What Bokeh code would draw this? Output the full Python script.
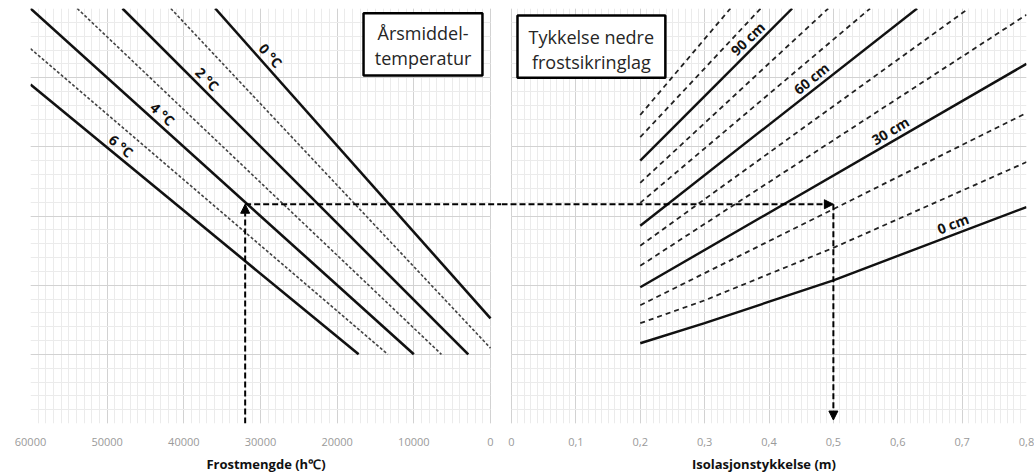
import numpy as np
from bokeh.plotting import figure
from bokeh.models import Range1d, FixedTicker, Label, Arrow, NormalHead, BoxAnnotation
from bokeh.layouts import row
from bokeh.core.properties import value
from bokeh.embed import file_html
from bokeh.resources import INLINE

# ---------------- data ----------------
# Left panel: Frostmengde (h°C) vs. level, one line per annual mean temperature
temp_labels = ["0 °C", None, "2 °C", None, "4 °C", None, "6 °C"]
left_x_start = [35900, 41700, 48000, 53900, 60000, 60000, 60000]
left_y_start = [6.0, 6.0, 6.0, 6.0, 6.0, 5.42, 4.90]
left_x_end = [0, 0, 2900, 6400, 10000, 13400, 17200]
left_y_end = [1.52, 1.09, 1.0, 1.0, 1.0, 1.0, 1.0]

# Right panel: insulation thickness (m) vs. level, one line per layer thickness (cm)
thick_cm = [0, 10, 20, 30, 40, 50, 60, 70, 80, 90, 100, 110]
right_x = [
    [0.2, 0.3, 0.5, 0.8],
    [0.2, 0.3, 0.5, 0.8],
    [0.2, 0.8],
    [0.2, 0.8],
    [0.2, 0.8],
    [0.2, 0.71],
    [0.2, 0.63],
    [0.2, 0.557],
    [0.2, 0.492],
    [0.2, 0.436],
    [0.2, 0.387],
    [0.2, 0.34],
]
right_y = [
    [1.16, 1.45, 2.07, 3.13],
    [1.45, 1.78, 2.54, 3.78],
    [1.71, 4.49],
    [1.97, 5.20],
    [2.28, 5.91],
    [2.57, 6.0],
    [2.86, 6.0],
    [3.19, 6.0],
    [3.48, 6.0],
    [3.80, 6.0],
    [4.14, 6.0],
    [4.46, 6.0],
]

# Worked example
ex_frost = 32000
ex_level = 3.17
ex_thick = 0.5

frost_ticks = [0, 10000, 20000, 30000, 40000, 50000, 60000]
frost_tick_labels = ["0", "10000", "20000", "30000", "40000", "50000", "60000"]
thick_ticks = [0, 0.1, 0.2, 0.3, 0.4, 0.5, 0.6, 0.7, 0.8]
thick_tick_labels = ["0", "0,1", "0,2", "0,3", "0,4", "0,5", "0,6", "0,7", "0,8"]
level_ticks = [0, 1, 2, 3, 4, 5, 6]

left_box_lines = ["Årsmiddel-", "temperatur"]
right_box_lines = ["Tykkelse nedre", "frostsikringlag"]

# ---------------- styles / layout ----------------
FONT = "Open Sans"
H = 476
MAJOR = "#d2d2d2"
MINOR = "#ebebeb"
left_label_at = [29600, 37800, 43600, 48950]
left_label_angle = [-48, -45, -42, -39.5]
right_label_at = {90: 0.377, 60: 0.475, 30: 0.596, 0: 0.691}
right_label_angle = {90: 44, 60: 39, 30: 31, 0: 21}
left_box = dict(left=16560, right=1050, top=5.93, bottom=5.03, cx=8800, ys=(5.65, 5.28))
right_box = dict(left=0.0093, right=0.239, top=5.90, bottom=5.0, cx=0.124, ys=(5.59, 5.23))

level_minor = [round(v * 0.2, 2) for v in range(0, 31)]


def style_common(p, ticks, labels, minor, xlabel, bounds):
    p.outline_line_color = None
    p.yaxis.visible = False
    ax = p.xaxis[0]
    ax.ticker = FixedTicker(ticks=ticks, minor_ticks=minor)
    ax.major_label_overrides = {t: l for t, l in zip(ticks, labels)}
    ax.axis_line_color = None
    ax.major_tick_line_color = None
    ax.minor_tick_line_color = None
    ax.major_label_text_font = FONT
    ax.major_label_text_font_size = "11px"
    ax.major_label_text_color = "#9a9a9a"
    ax.major_label_standoff = 8
    ax.axis_label = xlabel
    ax.axis_label_text_font = FONT
    ax.axis_label_text_font_size = "13px"
    ax.axis_label_text_font_style = "bold"
    ax.axis_label_text_color = "#111111"
    ax.axis_label_standoff = 6
    xg = p.xgrid[0]
    xg.ticker = FixedTicker(ticks=ticks, minor_ticks=minor)
    xg.bounds = bounds
    yg = p.ygrid[0]
    yg.ticker = FixedTicker(ticks=level_ticks, minor_ticks=level_minor)
    yg.cross_bounds = bounds
    for g in (xg, yg):
        g.grid_line_color = MAJOR
        g.grid_line_width = 1
        g.minor_grid_line_color = MINOR
        g.minor_grid_line_width = 1


def add_box(p, b, lines):
    p.add_layout(BoxAnnotation(left=b["left"], right=b["right"], top=b["top"], bottom=b["bottom"],
                               fill_color="white", fill_alpha=1.0, line_color="black",
                               line_width=2.5, line_alpha=1.0))
    for txt, yy in zip(lines, b["ys"]):
        p.add_layout(Label(x=b["cx"], y=yy, text=txt, text_font=FONT, text_font_size="18px",
                           text_color="#262626", text_align="center", text_baseline="middle"))


# ---------------- left panel ----------------
W1 = 501
left_end = -60000 * 11 / 460
p1 = figure(width=W1, height=H, x_range=Range1d(60000, left_end), y_range=Range1d(0, 6),
            output_backend="svg", toolbar_location=None,
            min_border_left=30, min_border_right=0, min_border_top=8, min_border_bottom=53)
style_common(p1, frost_ticks, frost_tick_labels, list(range(0, 60001, 1000)),
             "Frostmengde (h\u2103)", (0, 60000))

for i in range(len(left_x_start)):
    xs = [left_x_start[i], left_x_end[i]]
    ys = [left_y_start[i], left_y_end[i]]
    if i % 2 == 0:
        p1.line(xs, ys, line_color="#111111", line_width=2.6)
    else:
        p1.line(xs, ys, line_color="#444444", line_width=1.6, line_dash="3 2")

lab_x, lab_y, lab_t = [], [], []
for k, i in enumerate([0, 2, 4, 6]):
    xs = [left_x_end[i], left_x_start[i]]
    ys = [left_y_end[i], left_y_start[i]]
    lab_x.append(left_label_at[k])
    lab_y.append(float(np.interp(left_label_at[k], xs, ys)))
    lab_t.append(temp_labels[i])
p1.text(x=lab_x, y=lab_y, text=lab_t, angle=left_label_angle, angle_units="deg",
        text_font=value(FONT), text_font_style="bold", text_font_size="14px",
        text_color="#111111", text_align="center", text_baseline="bottom", y_offset=-1)

add_box(p1, left_box, left_box_lines)

# example arrows (left)
p1.add_layout(Arrow(end=NormalHead(size=9, fill_color="black", line_color="black"),
                    x_start=ex_frost, y_start=0, x_end=ex_frost, y_end=ex_level,
                    line_color="black", line_width=2, line_dash="6 3"))
p1.line([ex_frost, left_end], [ex_level, ex_level], line_color="black", line_width=2,
        line_dash="6 3")

# ---------------- right panel ----------------
W2 = 533
right_start = -0.8 * 10 / 515
p2 = figure(width=W2, height=H, x_range=Range1d(right_start, 0.8), y_range=Range1d(0, 6),
            output_backend="svg", toolbar_location=None,
            min_border_left=0, min_border_right=8, min_border_top=8, min_border_bottom=53)
style_common(p2, thick_ticks, thick_tick_labels, [round(v * 0.01, 2) for v in range(0, 81)],
             "Isolasjonstykkelse (m)", (0, 0.8))

rl_x, rl_y, rl_t, rl_a = [], [], [], []
for i, cm in enumerate(thick_cm):
    xs = right_x[i]
    ys = right_y[i]
    if cm % 30 == 0:
        p2.line(xs, ys, line_color="#111111", line_width=2.4)
        rl_x.append(right_label_at[cm])
        rl_y.append(float(np.interp(right_label_at[cm], xs, ys)))
        rl_t.append(f"{cm} cm")
        rl_a.append(right_label_angle[cm])
    else:
        p2.line(xs, ys, line_color="#222222", line_width=1.8, line_dash="5 4")

p2.text(x=rl_x, y=rl_y, text=rl_t, angle=rl_a, angle_units="deg",
        text_font=value(FONT), text_font_style="bold", text_font_size="14px",
        text_color="#111111", text_align="center", text_baseline="bottom", y_offset=-1)

add_box(p2, right_box, right_box_lines)

p2.add_layout(Arrow(end=NormalHead(size=9, fill_color="black", line_color="black"),
                    x_start=right_start, y_start=ex_level, x_end=ex_thick, y_end=ex_level,
                    line_color="black", line_width=2, line_dash="6 3"))
p2.add_layout(Arrow(end=NormalHead(size=9, fill_color="black", line_color="black"),
                    x_start=ex_thick, y_start=ex_level, x_end=ex_thick, y_end=0.05,
                    line_color="black", line_width=2, line_dash="6 3"))

layout = row(p1, p2)
open("out.html", "w").write(file_html(layout, INLINE))
